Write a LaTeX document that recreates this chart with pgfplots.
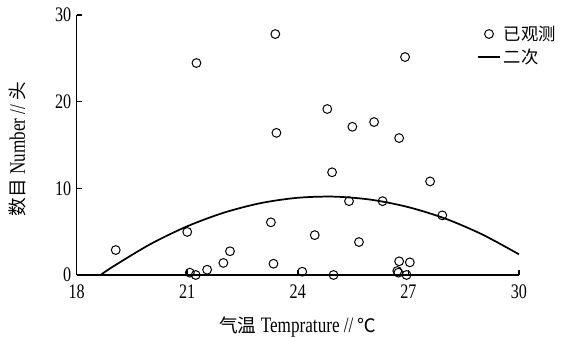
\documentclass[border=0pt]{standalone}
\usepackage{pgfplots}
\pgfplotsset{compat=1.18}
\usepackage{fontspec}
\setmainfont{Liberation Serif}[FakeStretch=0.78]
\newfontfamily\cjk{Noto Sans CJK SC}
\begin{document}
\begin{tikzpicture}
\useasboundingbox (-57.5pt,-47.25pt) rectangle (374.5pt,206.25pt);
\begin{axis}[
  at={(0,0)}, anchor=south west,
  scale only axis, width=331.7pt, height=195pt,
  xmin=18, xmax=30, ymin=0, ymax=30,
  xtick={18,21,24,27,30}, ytick={0,10,20,30},
  axis x line*=bottom, axis y line*=left,
  axis line style={line width=1.1pt},
  tick align=inside, major tick length=4pt,
  tick style={line width=1.1pt, black},
  /pgf/number format/assume math mode=true,
  tick label style={font=\fontsize{15.5}{17}\selectfont},
  xticklabel style={yshift=-4pt},
  yticklabel style={xshift=-0.5pt},
  clip=false,
  xlabel={{\cjk\fontsize{14}{16}\selectfont 气温} Temprature // {\cjk\fontsize{14}{16}\selectfont ℃}},
  ylabel={{\cjk\fontsize{14}{16}\selectfont 数目} Number // {\cjk\fontsize{14}{16}\selectfont 头}},
  label style={font=\fontsize{16.5}{18}\selectfont},
  xlabel style={at={(axis description cs:0.5,-0.2)}, anchor=center},
  ylabel style={at={(axis description cs:-0.133,0.485)}, anchor=center, rotate=0},
  legend style={draw=none, fill=none, at={(0.895,0.98)}, anchor=north west,
    font=\cjk\fontsize{13}{15}\selectfont, row sep=1pt},
  legend cell align=left,
]
\addplot[only marks, mark=o, mark size=3.3pt, mark options={line width=0.75pt}, black] coordinates {
(21.25,24.46) (23.39,27.8) (23.42,16.4) (24.80,19.15) (25.48,17.1) (26.07,17.65)
(26.75,15.8) (26.91,25.15) (27.59,10.8) (24.93,11.85) (25.39,8.52) (26.30,8.52)
(27.92,6.88) (24.46,4.60) (25.66,3.80) (23.27,6.08) (21.0,4.97) (19.06,2.88)
(22.16,2.74) (21.98,1.39) (23.34,1.30) (21.54,0.61) (21.07,0.27) (21.23,0.0)
(24.12,0.38) (24.97,0.0) (26.75,1.58) (27.04,1.46) (26.70,0.46) (26.73,0.27) (26.95,0.0)
};
\addlegendentry{已观测}
\addplot[black, line width=1.3pt, smooth] coordinates {
(18.65,0) (19,1.01) (20,3.56) (21,5.62) (22,7.20) (23,8.30) (24,8.91) (25,9.04)
(26,8.68) (27,7.83) (28,6.51) (29,4.69) (30,2.39)
};
\addlegendentry{二次}
\end{axis}
\end{tikzpicture}
\end{document}
